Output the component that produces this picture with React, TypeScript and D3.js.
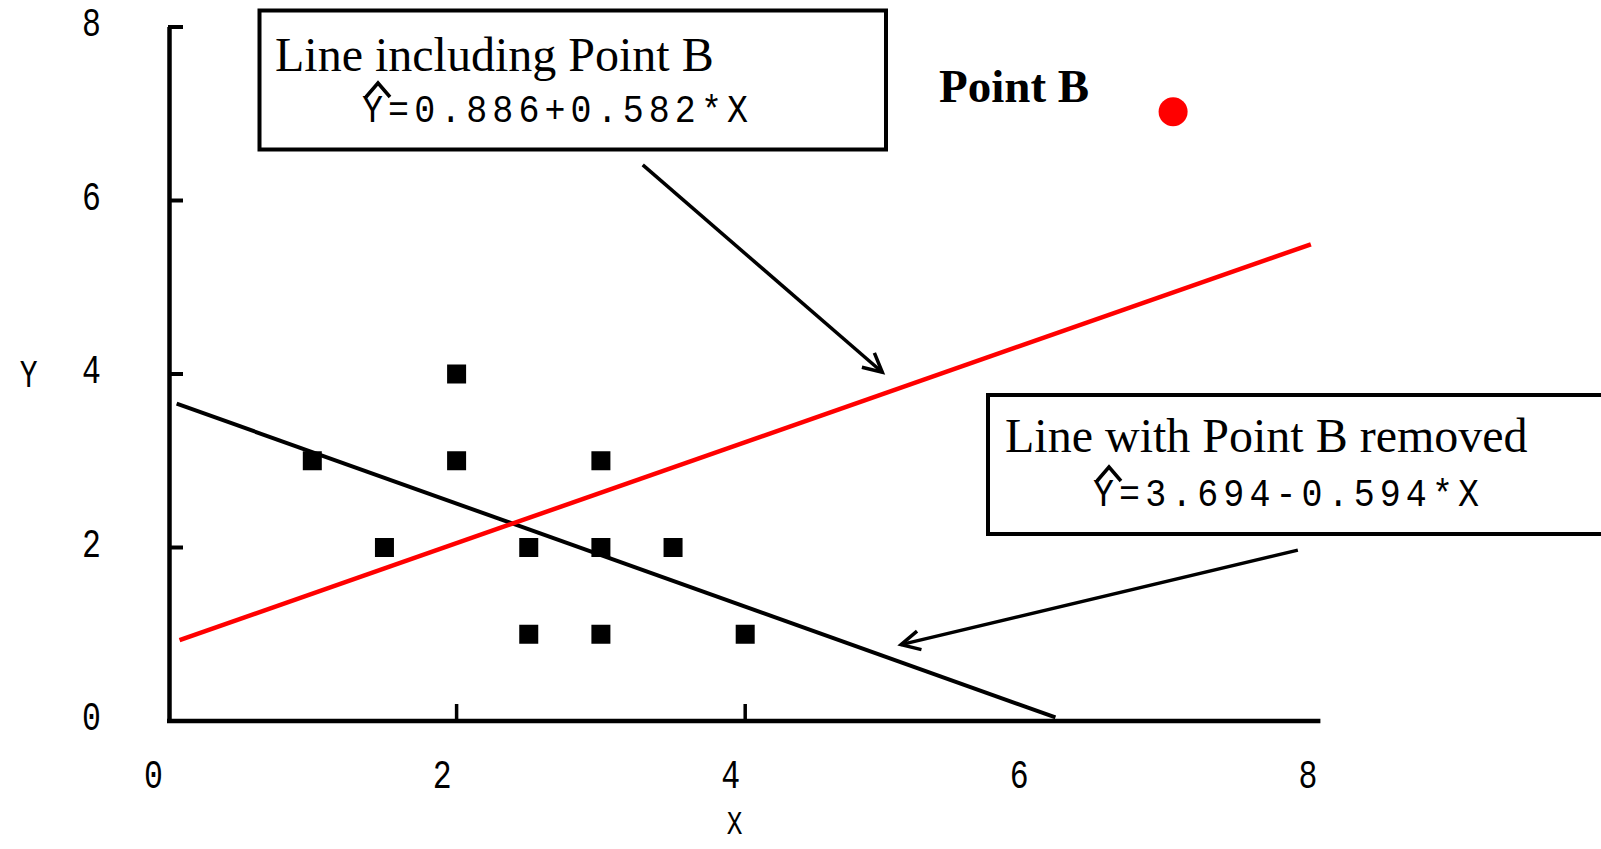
import React from "react";
import * as d3 from "d3";

// ---- data ----
const pointsX = [1, 1.5, 2, 2, 2.5, 2.5, 3, 3, 3, 3.5, 4];
const pointsY = [3, 2, 4, 3, 2, 1, 3, 2, 1, 2, 1];
const pointBX = 7;
const pointBY = 7;

const lineWithB = { intercept: 0.886, slope: 0.582, x0: 0.08, x1: 7.92 };
const lineWithoutB = { intercept: 3.694, slope: -0.594, x0: 0.06, x1: 6.15 };

const xTickLabels = [0, 2, 4, 6, 8];
const xTickMarks = [2, 4];
const yTickLabels = [0, 2, 4, 6, 8];
const yTickMarks = [2, 4, 6, 8];

const box1Title = "Line including Point B";
const box1Eq = "Y=0.886+0.582*X";
const box2Title = "Line with Point B removed";
const box2Eq = "Y=3.694-0.594*X";
const pointBLabel = "Point B";

// arrows in data coordinates: [fromX, fromY, toX, toY]
const arrow1 = [3.29, 6.41, 4.95, 4.02];
const arrow2 = [7.83, 1.97, 5.08, 0.88];

const W = 1601;
const H = 849;
const MONO = "'Liberation Mono', 'DejaVu Sans Mono', monospace";
const SERIF = "'Liberation Serif', 'Times New Roman', serif";

function Mono({ x, y, size, children, anchor = "middle" }: any) {
  return (
    <text
      transform={`translate(${x},${y}) scale(0.9,1.15)`}
      fontFamily={MONO}
      fontSize={size}
      textAnchor={anchor}
      fill="#000"
    >
      {children}
    </text>
  );
}

export default function App() {
  const x = d3.scaleLinear().domain([0, 8]).range([168, 1322.4]);
  const y = d3.scaleLinear().domain([0, 8]).range([721, 27]);

  const lineGen = d3
    .line<[number, number]>()
    .x((d) => x(d[0]))
    .y((d) => y(d[1]));

  const seg = (l: { intercept: number; slope: number; x0: number; x1: number }) =>
    lineGen([
      [l.x0, l.intercept + l.slope * l.x0],
      [l.x1, l.intercept + l.slope * l.x1],
    ]) as string;

  const arrowHead = (a: number[]) => {
    const x1 = x(a[0]), y1 = y(a[1]), x2 = x(a[2]), y2 = y(a[3]);
    const ang = Math.atan2(y1 - y2, x1 - x2);
    const L = 21, h = (27 * Math.PI) / 180;
    const p1 = [x2 + L * Math.cos(ang + h), y2 + L * Math.sin(ang + h)];
    const p2 = [x2 + L * Math.cos(ang - h), y2 + L * Math.sin(ang - h)];
    return `M${p1[0]},${p1[1]}L${x2},${y2}L${p2[0]},${p2[1]}`;
  };

  const hat = (cx: number, base: number) =>
    `M${cx - 12},${base - 25}L${cx},${base - 39}L${cx + 12},${base - 25}`;

  const sq = 19;

  return (
    <svg
      width={W}
      height={H}
      style={{ position: "absolute", left: 0, top: 0, display: "block", background: "#fff" }}
    >
      <rect x={0} y={0} width={W} height={H} fill="#fff" />

      {/* axes */}
      <line x1={x(0) + 1.5} y1={y(8)} x2={x(0) + 1.5} y2={y(0) + 1.5} stroke="#000" strokeWidth={4.5} />
      <line x1={x(0) - 1} y1={y(0)} x2={x(8) - 2} y2={y(0)} stroke="#000" strokeWidth={4.5} />
      {yTickMarks.map((v) => (
        <line key={"yt" + v} x1={x(0)} y1={y(v)} x2={x(0) + 15} y2={y(v)} stroke="#000" strokeWidth={4} />
      ))}
      {xTickMarks.map((v) => (
        <line key={"xt" + v} x1={x(v)} y1={y(0)} x2={x(v)} y2={y(0) - 17} stroke="#000" strokeWidth={3.5} />
      ))}
      {yTickLabels.map((v) => (
        <Mono key={"yl" + v} x={91.5} y={y(v) + 9} size={35}>
          {v}
        </Mono>
      ))}
      {xTickLabels.map((v) => (
        <Mono key={"xl" + v} x={x(v) - 14.5} y={788} size={35}>
          {v}
        </Mono>
      ))}
      <Mono x={734.5} y={834} size={29}>
        X
      </Mono>
      <Mono x={28.7} y={387} size={33}>
        Y
      </Mono>

      {/* regression lines */}
      <path d={seg(lineWithoutB)} stroke="#000" strokeWidth={4} fill="none" />
      <path d={seg(lineWithB)} stroke="#ff0000" strokeWidth={4.5} fill="none" />

      {/* data points */}
      {pointsX.map((px, i) => (
        <rect key={"p" + i} x={x(px) - sq / 2} y={y(pointsY[i]) - sq / 2} width={sq} height={sq} fill="#000" />
      ))}
      <circle cx={x(pointBX) - 5} cy={y(pointBY) - 2} r={14.5} fill="#ff0000" />
      <text x={939} y={101.7} fontFamily={SERIF} fontWeight="bold" fontSize={47} fill="#000">
        {pointBLabel}
      </text>

      {/* annotation box 1 */}
      <rect x={259.5} y={10.5} width={626.5} height={139} fill="#fff" stroke="#000" strokeWidth={4} />
      <text x={275} y={70.5} fontFamily={SERIF} fontSize={48} fill="#000">
        {box1Title}
      </text>
      <text
        transform="translate(362,122) scale(1,1.12)"
        fontFamily={MONO}
        fontSize={35}
        textLength={386}
        lengthAdjust="spacing"
        fill="#000"
      >
        {box1Eq}
      </text>
      <path d={hat(378, 122)} stroke="#000" strokeWidth={3.5} fill="none" />

      {/* annotation box 2 */}
      <rect x={988} y={395} width={640} height={139} fill="#fff" stroke="#000" strokeWidth={4} />
      <text x={1005} y={452} fontFamily={SERIF} fontSize={48} fill="#000">
        {box2Title}
      </text>
      <text
        transform="translate(1093,506) scale(1,1.12)"
        fontFamily={MONO}
        fontSize={35}
        textLength={386}
        lengthAdjust="spacing"
        fill="#000"
      >
        {box2Eq}
      </text>
      <path d={hat(1109, 506)} stroke="#000" strokeWidth={3.5} fill="none" />

      {/* arrows */}
      {[arrow1, arrow2].map((a, i) => (
        <g key={"a" + i}>
          <line x1={x(a[0])} y1={y(a[1])} x2={x(a[2])} y2={y(a[3])} stroke="#000" strokeWidth={3.5} />
          <path d={arrowHead(a)} stroke="#000" strokeWidth={3.5} fill="none" />
        </g>
      ))}
    </svg>
  );
}
